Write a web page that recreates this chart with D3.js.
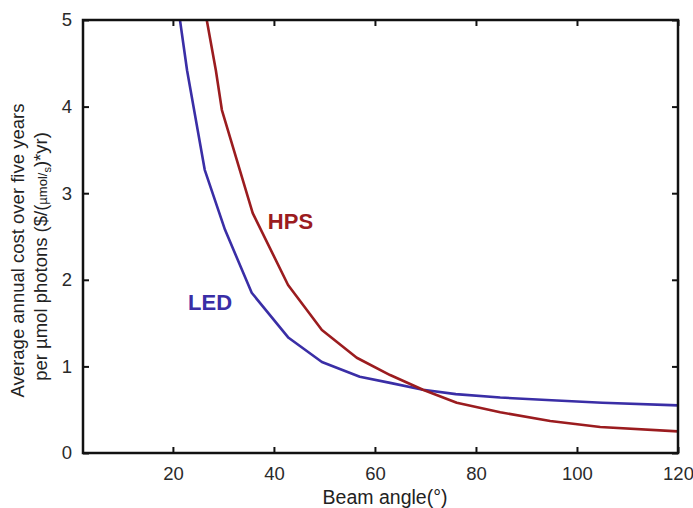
<!DOCTYPE html>
<html>
<head>
<meta charset="utf-8">
<script src="https://cdn.jsdelivr.net/npm/d3@7"></script>
<style>
  body { margin: 0; background: #fff; }
  svg { font-family: "Liberation Sans", Arial, sans-serif; }
</style>
</head>
<body>
<div id="chart"></div>
<script>
// Beam angle (deg) vs average annual cost
const ledAngle = [21.4, 22.8, 26.3, 30.3, 35.6, 42.9, 49.5, 57.0, 63, 69.5, 76, 84.8, 95, 105, 120];
const ledCost  = [5.0, 4.42, 3.27, 2.58, 1.85, 1.33, 1.05, 0.88, 0.81, 0.73, 0.68, 0.64, 0.61, 0.58, 0.55];
const hpsAngle = [26.7, 28.5, 29.7, 35.8, 42.8, 49.5, 56.4, 63, 69.5, 76.2, 84.8, 94.7, 104.6, 120];
const hpsCost  = [5.0, 4.42, 3.96, 2.77, 1.94, 1.42, 1.10, 0.90, 0.73, 0.58, 0.47, 0.37, 0.30, 0.25];
const xTicks = [20, 40, 60, 80, 100, 120];
const yTicks = [0, 1, 2, 3, 4, 5];

const W = 693, H = 508;
const margin = {top: 20, right: 15, bottom: 55, left: 83};
const w = W - margin.left - margin.right,
      h = H - margin.top - margin.bottom;

const svg = d3.select("#chart").append("svg")
  .attr("width", W).attr("height", H);

const g = svg.append("g")
  .attr("transform", `translate(${margin.left},${margin.top})`);

const x = d3.scaleLinear().domain([2.2, 120]).range([0, w]);
const y = d3.scaleLinear().domain([0, 5]).range([h, 0]);

g.append("defs").append("clipPath").attr("id", "clip")
  .append("rect").attr("width", w).attr("height", h);

//series
const series = [
  {name: "LED", xs: ledAngle, ys: ledCost, color: "#3a2ea6"},
  {name: "HPS", xs: hpsAngle, ys: hpsCost, color: "#9b1c1f"}
];
const line = d3.line().x(d => x(d[0])).y(d => y(d[1]));

g.append("g").attr("clip-path", "url(#clip)")
  .selectAll("path").data(series).enter().append("path")
  .attr("d", s => line(s.xs.map((v, i) => [v, s.ys[i]])))
  .attr("fill", "none")
  .attr("stroke", s => s.color)
  .attr("stroke-width", 2.6)
  .attr("stroke-linejoin", "round");

//axes with inward ticks on all four sides
const tickLen = 6;
const fmt = d3.format("d");
const axB = g.append("g").attr("transform", `translate(0,${h})`)
  .call(d3.axisBottom(x).tickValues(xTicks).tickSize(-tickLen).tickPadding(14).tickFormat(fmt));
const axT = g.append("g")
  .call(d3.axisTop(x).tickValues(xTicks).tickSize(-tickLen).tickFormat(""));
const axL = g.append("g")
  .call(d3.axisLeft(y).tickValues(yTicks).tickSize(-tickLen).tickPadding(11).tickFormat(fmt));
const axR = g.append("g").attr("transform", `translate(${w},0)`)
  .call(d3.axisRight(y).tickValues(yTicks).tickSize(-tickLen).tickFormat(""));

[axB, axT, axL, axR].forEach(a => {
  a.select(".domain").remove();
  a.selectAll(".tick line").attr("stroke", "#111").attr("stroke-width", 2);
  a.selectAll("text").attr("fill", "#2a2a2a").style("font-size", "18.5px");
});

g.append("rect")
  .attr("width", w).attr("height", h)
  .attr("fill", "none").attr("stroke", "#111").attr("stroke-width", 2.5);

//series labels
g.append("text").attr("x", x(38.8)).attr("y", y(2.59))
  .attr("fill", "#9b1c1f").style("font-size", "22px").style("font-weight", "bold")
  .text("HPS");
g.append("text").attr("x", x(23.0)).attr("y", y(1.65))
  .attr("fill", "#3a2ea6").style("font-size", "22px").style("font-weight", "bold")
  .text("LED");

//axis titles
svg.append("text")
  .attr("x", margin.left + x(62)).attr("y", 504)
  .attr("text-anchor", "middle").attr("fill", "#222")
  .style("font-size", "19.5px")
  .text("Beam angle(°)");

const yt = svg.append("g").attr("transform", `translate(0,${margin.top + h / 2 + 14}) rotate(-90)`);
yt.append("text").attr("x", 0).attr("y", 24)
  .attr("text-anchor", "middle").attr("fill", "#222").style("font-size", "18.5px")
  .text("Average annual cost over five years");
const t2 = yt.append("text").attr("x", -6).attr("y", 47)
  .attr("text-anchor", "middle").attr("fill", "#222").style("font-size", "18.5px");
t2.append("tspan").text("per µmol photons ($/(");
t2.append("tspan").style("font-size", "13px").text("µmol/");
t2.append("tspan").style("font-size", "11px").attr("dy", 4).text("s");
t2.append("tspan").attr("dy", -4).text(")*yr)");
</script>
</body>
</html>
